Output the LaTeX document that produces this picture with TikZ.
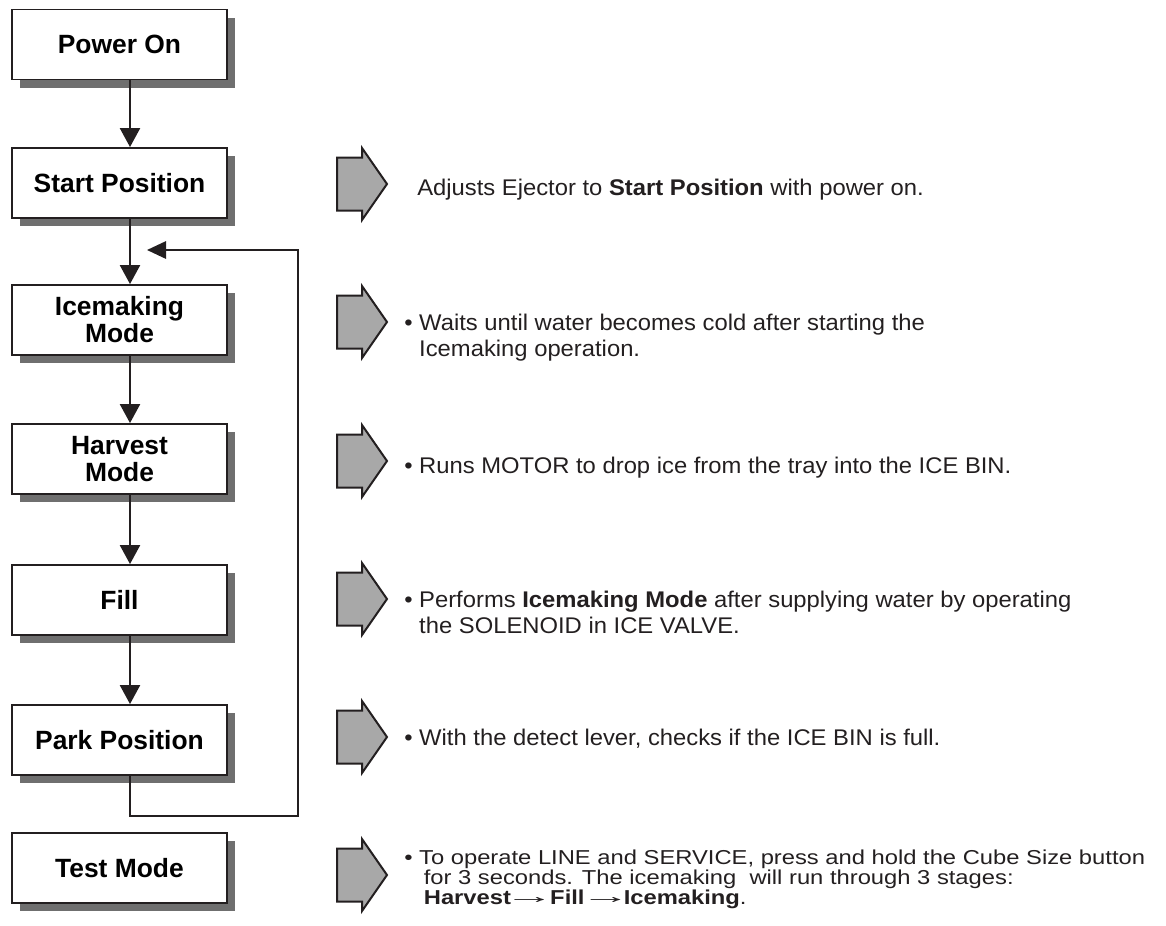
\documentclass[tikz,border=0pt]{standalone}
\usepackage{fontspec}
\usepackage{graphicx}
\setmainfont{Liberation Sans}[FakeStretch=1.05]
\newfontfamily\boxfont{Liberation Sans}
\newfontfamily\testfont{Liberation Sans}[FakeStretch=1.18]
\usetikzlibrary{arrows.meta,shadows}
\definecolor{ink}{HTML}{231F20}
\definecolor{shade}{HTML}{6F6F6F}
\definecolor{arrowfill}{HTML}{A8A8A8}
\newlength\bw
\newcommand\bpar[1]{\settowidth\bw{\textbullet\ }\parbox[t]{600pt}{\raggedright\lineskiplimit=-30pt\textbullet\ #1}}
\newcommand\nl[1][0pt]{\\\hspace*{\dimexpr\bw+#1\relax}}
\newcommand\larr{\kern-5pt\raisebox{0.6pt}{\scalebox{2.1}[1.05]{\mdseries →}}\kern-5pt}
\begin{document}
\begin{tikzpicture}[x=0.75pt,y=-0.75pt,
  stage/.style={draw=ink, line width=1.4pt, fill=white, minimum width=161.25pt,
    minimum height=52.5pt, inner sep=0pt, align=center,
    font=\boxfont\bfseries\fontsize{19.8pt}{20.25pt}\selectfont,
    drop shadow={shadow xshift=6pt, shadow yshift=-6pt, fill=shade, opacity=1}},
  flow/.style={draw=ink, line width=1.7pt, -{Triangle[length=14.25pt,width=15pt]}},
  back/.style={draw=ink, line width=1.5pt, -{Triangle[length=14.25pt,width=13pt]}},
  desc/.style={anchor=base west, inner sep=0pt, text=ink, font=\fontsize{17pt}{19.8pt}\selectfont},
  tight/.style={font=\testfont\fontsize{15.1pt}{15.2pt}\selectfont},
  barrow/.pic={\draw[draw=ink, line width=1.5pt, fill=arrowfill, line join=miter]
    (-25,-26.5) -- (0,-26.5) -- (0,-36) -- (25,0) -- (0,36) -- (0,26.5) -- (-25,26.5) -- cycle;}
]
\useasboundingbox (0,0) rectangle (1166,925);
\coordinate (lx) at (130,0);

% stages
\node[stage] (p1) at (119.5,44.5) {Power On};
\node[stage] (p2) at (119.5,183) {Start Position};
\node[stage] (p3) at (119.5,320) {Icemaking\\Mode};
\node[stage] (p4) at (119.5,459) {Harvest\\Mode};
\node[stage] (p5) at (119.5,600) {Fill};
\node[stage] (p6) at (119.5,740) {Park Position};
\node[stage] (p7) at (119.5,868) {Test Mode};

% flow connectors
\draw[flow] (p1.south -| lx) -- (p2.north -| lx);
\draw[flow] (p2.south -| lx) -- (p3.north -| lx);
\draw[flow] (p3.south -| lx) -- (p4.north -| lx);
\draw[flow] (p4.south -| lx) -- (p5.north -| lx);
\draw[flow] (p5.south -| lx) -- (p6.north -| lx);

% loop back
\coordinate (lb) at (298,816);
\coordinate (lt) at (147,250);
\draw[back] (p6.south -| lx) |- (lb) |- (lt);

% block arrows
\pic (a2) at (362,184) {barrow};
\pic (a3) at (362,322) {barrow};
\pic (a4) at (362,461) {barrow};
\pic (a5) at (362,599) {barrow};
\pic (a6) at (362,737) {barrow};
\pic (a7) at (362,875) {barrow};

% descriptions
\node[desc] (d2) at (417,195) {Adjusts Ejector to \textbf{Start Position} with power on.};
\node[desc] (d3) at (404,330) {\bpar{Waits until water becomes cold after starting the\nl Icemaking operation.}};
\node[desc] (d4) at (404,473) {\bpar{Runs MOTOR to drop ice from the tray into the ICE BIN.}};
\node[desc] (d5) at (404,607) {\bpar{Performs \textbf{Icemaking Mode} after supplying water by operating\nl the SOLENOID in ICE VALVE.}};
\node[desc] (d6) at (404,745) {\bpar{With the detect lever, checks if the ICE BIN is full.}};
\node[desc,tight] (d7) at (404,864) {\bpar{To operate LINE and SERVICE, press and hold the Cube Size button\nl[3.5pt]for 3 seconds. The icemaking\ \ will run through 3 stages:\nl[3.5pt]\textbf{Harvest}\larr\kern2pt\textbf{Fill}\kern2pt\larr\textbf{Icemaking}.}};
\end{tikzpicture}
\end{document}
